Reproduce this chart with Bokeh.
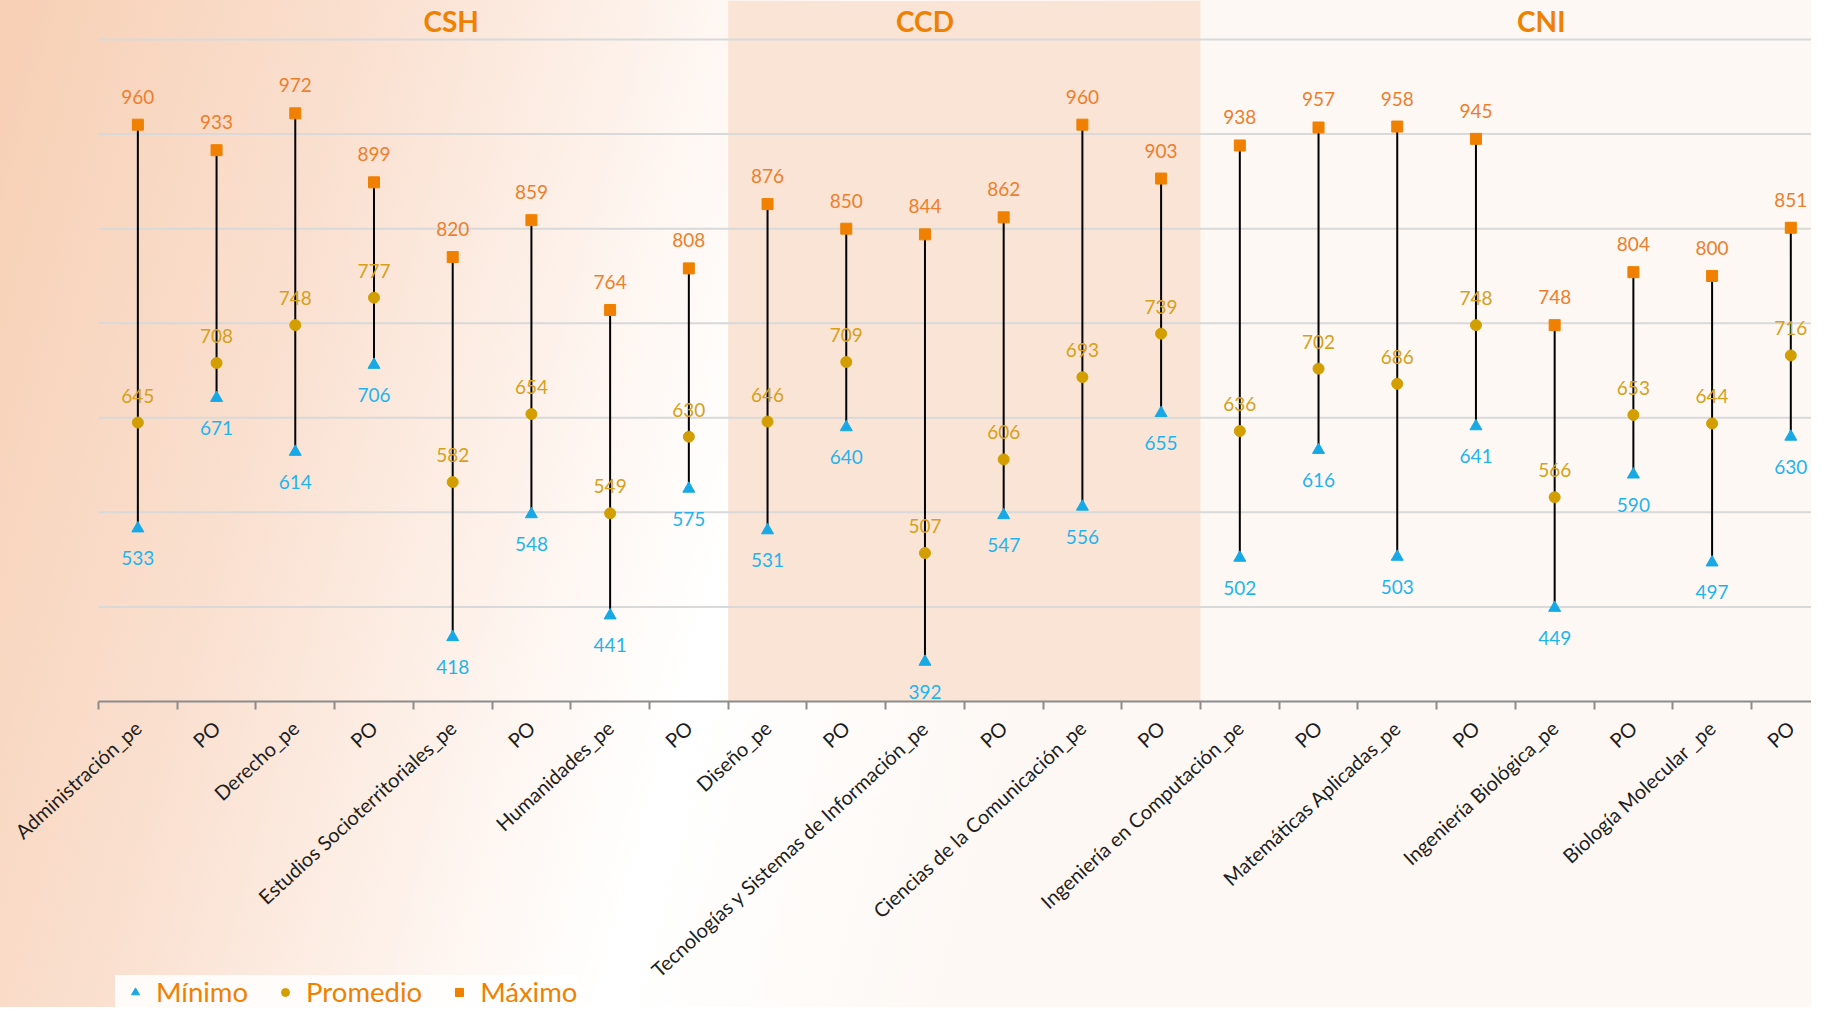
import math
from bokeh.plotting import figure
from bokeh.models import (Range1d, FixedTicker, Legend, LegendItem, ColumnDataSource)
from bokeh.core.properties import value
from bokeh.embed import file_html
from bokeh.resources import INLINE

# ---------------- data ----------------
categories = ["Administración_pe", "PO", "Derecho_pe", "PO",
              "Estudios Socioterritoriales_pe", "PO", "Humanidades_pe", "PO",
              "Diseño_pe", "PO", "Tecnologías y Sistemas de Información_pe", "PO",
              "Ciencias de la Comunicación_pe", "PO",
              "Ingeniería en Computación_pe", "PO", "Matemáticas Aplicadas_pe", "PO",
              "Ingeniería Biológica_pe", "PO", "Biología Molecular _pe", "PO"]
maximo = [960, 933, 972, 899, 820, 859, 764, 808, 876, 850, 844, 862, 960, 903,
          938, 957, 958, 945, 748, 804, 800, 851]
promedio = [645, 708, 748, 777, 582, 654, 549, 630, 646, 709, 507, 606, 693, 739,
            636, 702, 686, 748, 566, 653, 644, 716]
minimo = [533, 671, 614, 706, 418, 548, 441, 575, 531, 640, 392, 547, 556, 655,
          502, 616, 503, 641, 449, 590, 497, 630]
groups = ["CSH", "CCD", "CNI"]
group_sizes = [8, 6, 8]
y_ticks = [350, 450, 550, 650, 750, 850, 950, 1050]

# ---------------- layout constants ----------------
FONT = "Lato"
AXIS_Y = 350
Y_BOTTOM, Y_TOP = 26.4, 1091.3
X_START, X_END = -1.745, 21.263
AX_START = -0.5
title_pos = [3.98, 10.0, 17.83]
title_y = 1070

xs = list(range(len(categories)))
src = ColumnDataSource(dict(
    x=xs, mx=maximo, av=promedio, mn=minimo,
    mx_t=[str(v) for v in maximo], av_t=[str(v) for v in promedio],
    mn_t=[str(v) for v in minimo]))

p = figure(width=1811, height=1007, output_backend="svg", toolbar_location=None,
           x_range=Range1d(X_START, X_END), y_range=Range1d(Y_BOTTOM, Y_TOP),
           min_border_left=0, min_border_right=0, min_border_top=0,
           min_border_bottom=0,
           styles={"background": "linear-gradient(105deg, #F7CFB4 0%, #FAE0D0 18%, "
                                 "#FEF6F1 34%, #FFFFFF 42%, #FDF8F4 58%, #FDF8F4 100%)"})
p.border_fill_alpha = 0
p.background_fill_alpha = 0
p.outline_line_color = None

# CCD band
starts = [sum(group_sizes[:i]) for i in range(len(groups))]
ccd_l = starts[1] - 0.5
ccd_r = starts[1] + group_sizes[1] - 0.5
p.quad(left=[ccd_l], right=[ccd_r], bottom=[AXIS_Y], top=[Y_TOP],
       fill_color="#FAE4D6", line_color=None, level="underlay")

# horizontal gridlines (starting at the axis start, as in the original)
p.yaxis.visible = False
p.xgrid.grid_line_color = None
p.ygrid.grid_line_color = None
grid_t = [t for t in y_ticks if t > AXIS_Y]
p.segment(x0=[AX_START] * len(grid_t), x1=[X_END] * len(grid_t), y0=grid_t, y1=grid_t,
          line_color="#D9D9D9", line_width=2, level="underlay")

ax = p.xaxis[0]
ax.fixed_location = AXIS_Y
ax.bounds = (AX_START, X_END)
ax.ticker = FixedTicker(ticks=xs, minor_ticks=[i - 0.5 for i in range(len(xs) + 1)])
ax.major_label_overrides = {i: c for i, c in enumerate(categories)}
ax.major_label_orientation = 0.742
ax.major_tick_line_color = None
ax.major_tick_out = 0
ax.major_tick_in = 0
ax.minor_tick_line_color = "#8C8C8C"
ax.minor_tick_line_width = 2
ax.minor_tick_in = 0
ax.minor_tick_out = 8
ax.axis_line_color = "#8C8C8C"
ax.axis_line_width = 2
ax.major_label_text_font = FONT
ax.major_label_text_font_size = "20px"
ax.major_label_text_color = "#1E1E1E"
ax.major_label_standoff = 15

# range lines
p.segment(x0="x", y0="mn", x1="x", y1="mx", source=src, line_color="#000000", line_width=2)

r_max = p.scatter(x="x", y="mx", source=src, marker="square", size=11,
                  fill_color="#F08000", line_color="#F08000")
r_av = p.scatter(x="x", y="av", source=src, marker="circle", size=11,
                 fill_color="#D29E00", line_color="#D29E00")
r_min = p.scatter(x="x", y="mn", source=src, marker="triangle", size=12,
                  fill_color="#16A9E6", line_color="#16A9E6")

lab = dict(source=src, text_font=value(FONT), text_font_size="19px",
           text_align="center", text_baseline="middle")
p.text(x="x", y="mx", text="mx_t", y_offset=-28, text_color="#EE7E2C", **lab)
p.text(x="x", y="av", text="av_t", y_offset=-27, text_color="#D6A01A", **lab)
p.text(x="x", y="mn", text="mn_t", y_offset=30, text_color="#1FB4EE", **lab)

# group titles
p.text(x=title_pos, y=[title_y] * 3, text=groups, text_font=value(FONT),
       text_font_size="28px", text_font_style="bold", text_color="#F08000",
       text_align="center", text_baseline="middle")

legend = Legend(items=[LegendItem(label="Mínimo", renderers=[r_min]),
                       LegendItem(label="Promedio", renderers=[r_av]),
                       LegendItem(label="Máximo", renderers=[r_max])],
                orientation="horizontal", location=(115, -1),
                label_text_font=FONT, label_text_font_size="27.5px",
                label_text_color="#F08000", glyph_width=40, glyph_height=20,
                label_height=32, label_standoff=1, spacing=17, padding=10, margin=0,
                background_fill_color="#FFFFFF", background_fill_alpha=0.85,
                border_line_color=None)
p.add_layout(legend, "center")

open("out.html", "w").write(file_html(p, INLINE))
